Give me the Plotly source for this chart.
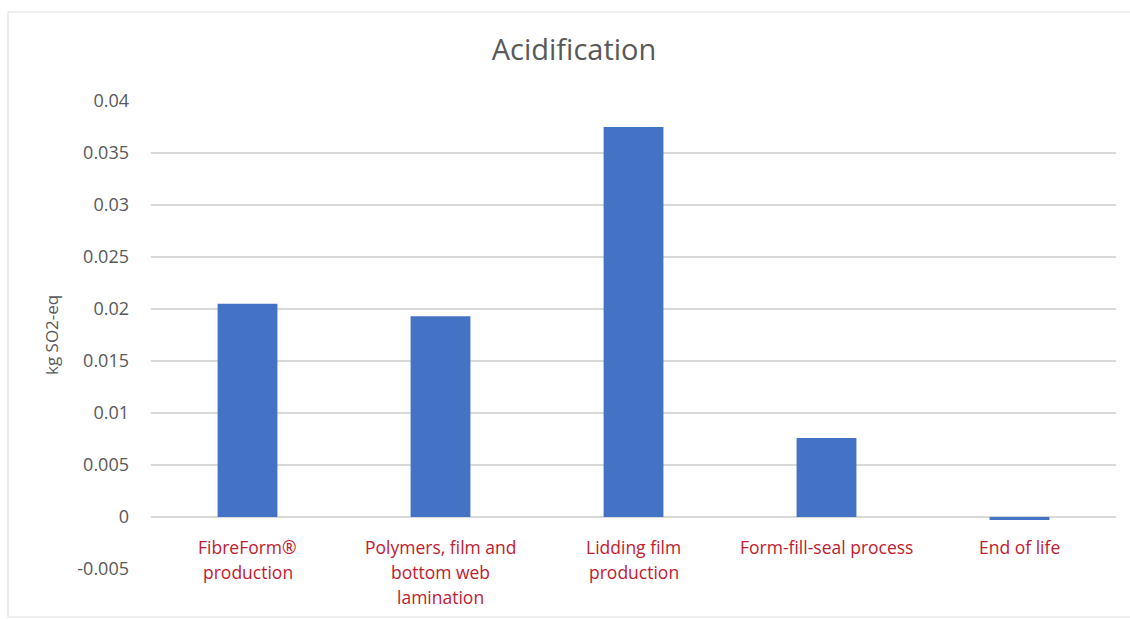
import plotly.graph_objects as go

# Acidification by life-cycle stage (kg SO2-eq)
stages = [
    "FibreForm®\nproduction",
    "Polymers, film and\nbottom web\nlamination",
    "Lidding film\nproduction",
    "Form-fill-seal process",
    "End of life",
]
acidification = [0.0205, 0.0193, 0.0375, 0.0076, -0.0003]
y_ticks = [-0.005, 0, 0.005, 0.01, 0.015, 0.02, 0.025, 0.03, 0.035, 0.04]

W, H = 1130, 619
ML, MR, MT, MB = 151, 14, 101, 50
PW = W - ML - MR
PH = H - MT - MB

FONT = "Open Sans, Lato, sans-serif"
GREY = "#595959"
RED = "#C0202F"

fig = go.Figure(
    go.Bar(
        x=list(range(len(stages))),
        y=acidification,
        marker=dict(color="#4472C4", line=dict(width=0)),
        width=0.31,
    )
)


def px_x(px):
    return (px - ML) / PW


def px_y(py):
    return (H - MB - py) / PH


annotations = []
# category labels hang just under the zero line, one annotation per line
line_gap = 25
for i, label in enumerate(stages):
    for j, line in enumerate(label.split("\n")):
        annotations.append(dict(
            x=i, y=0, xref="x", yref="y",
            text=line, showarrow=False,
            yanchor="middle", xanchor="center",
            yshift=-30 - j * line_gap,
            font=dict(family=FONT, size=17.5, color=RED),
        ))

annotations.append(dict(
    x=px_x(51), y=px_y(335), xref="paper", yref="paper",
    text="kg SO2-eq", textangle=-90, showarrow=False,
    xanchor="center", yanchor="middle",
    font=dict(family=FONT, size=17, color=GREY),
))

fig.update_layout(
    width=W, height=H,
    margin=dict(l=ML, r=MR, t=MT, b=MB, pad=0),
    paper_bgcolor="white", plot_bgcolor="white",
    showlegend=False,
    title=dict(
        text="Acidification",
        x=574 / W, xref="container", xanchor="center",
        y=1 - 50 / H, yref="container", yanchor="middle",
        font=dict(family=FONT, size=29, color=GREY),
    ),
    xaxis=dict(
        range=[-0.5, len(stages) - 0.5],
        showticklabels=False, showgrid=False, zeroline=False,
        showline=False, ticks="",
    ),
    yaxis=dict(
        range=[-0.005, 0.04],
        tickvals=y_ticks,
        ticktext=[("%g" % v) for v in y_ticks],
        tickfont=dict(family=FONT, size=18, color=GREY),
        showgrid=True, gridcolor="#D9D9D9", gridwidth=1.5,
        zeroline=True, zerolinecolor="#D9D9D9", zerolinewidth=1.5,
        showline=False, ticks="", ticklabelstandoff=21,
    ),
    annotations=annotations,
    shapes=[
        # chart frame
        dict(type="rect", xref="paper", yref="paper",
             x0=px_x(8), x1=px_x(1140), y0=px_y(617), y1=px_y(12),
             line=dict(color="#E0E0E0", width=1.2), layer="below"),
    ],
)

fig.write_html("out.html")
